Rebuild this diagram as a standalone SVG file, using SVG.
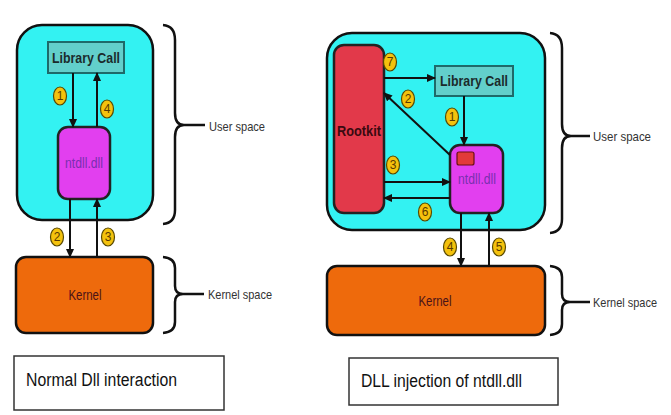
<svg xmlns="http://www.w3.org/2000/svg" width="671" height="415" viewBox="0 0 671 415">
<defs>
<style>
.space{fill:#33F2F2;stroke:#111;stroke-width:2.5}
.lib{fill:#62CFCB;stroke:#1E6A6A;stroke-width:2}
.libt{font-family:"Liberation Sans",Arial,sans-serif;font-weight:bold;font-size:14px;fill:#1B2B2B;text-anchor:middle}
.ntdll{fill:#E23FEF;stroke:#222;stroke-width:2.5}
.ntt{font-family:"Liberation Sans",Arial,sans-serif;font-size:14px;fill:#7A2FB0;text-anchor:middle}
.kern{fill:#EE6A0C;stroke:#111;stroke-width:2.5}
.kt{font-family:"Liberation Sans",Arial,sans-serif;font-size:15px;fill:#4A1218;text-anchor:middle}
.root{fill:#E2394A;stroke:#222;stroke-width:2.5}
.rt{font-family:"Liberation Sans",Arial,sans-serif;font-weight:bold;font-size:14px;fill:#3A0A10;text-anchor:middle}
.num{fill:#F4C20D;stroke:#5A4A00;stroke-width:1.2}
.numt{font-family:"Liberation Sans",Arial,sans-serif;font-size:12px;fill:#5A3A00;text-anchor:middle}
.arr{stroke:#111;stroke-width:2;fill:none;marker-end:url(#ah)}
.brace{fill:none;stroke:#111;stroke-width:2.5}
.lbl{font-family:"Liberation Sans",Arial,sans-serif;font-size:13px;fill:#333}
.cap{fill:#fff;stroke:#333;stroke-width:1.5}
.capt{font-family:"Liberation Sans",Arial,sans-serif;font-size:18px;fill:#111}
</style>
<marker id="ah" markerUnits="userSpaceOnUse" markerWidth="9" markerHeight="8" refX="8" refY="4" orient="auto">
<path d="M0,0 L9,4 L0,8 z" fill="#111"/>
</marker>
</defs>
<rect width="671" height="415" fill="#fff"/>

<!-- LEFT PANEL -->
<g id="user-space-left"><rect class="space" x="17" y="25" width="136" height="195" rx="25"/></g>
<g id="library-call-left"><rect class="lib" x="48" y="42" width="76" height="31"/><text class="libt" x="86" y="63" textLength="68" lengthAdjust="spacingAndGlyphs">Library Call</text></g>
<g id="ntdll-left"><rect class="ntdll" x="58" y="127" width="52" height="72" rx="10"/><text class="ntt" x="84" y="168" textLength="38" lengthAdjust="spacingAndGlyphs">ntdll.dll</text></g>
<g id="kernel-left"><rect class="kern" x="16" y="257" width="137" height="76" rx="10"/><text class="kt" x="85" y="300" textLength="33" lengthAdjust="spacingAndGlyphs">Kernel</text></g>
<g id="brace-user-left"><path class="brace" d="M163,25 Q175,26 175,40 L175,113 Q175,125 184,125 Q175,125 175,137 L175,210 Q175,223 163,224 M184,125 L205,125"/><text class="lbl" x="209" y="131" textLength="56" lengthAdjust="spacingAndGlyphs">User space</text></g>
<g id="brace-kernel-left"><path class="brace" d="M163,257 Q175,258 175,268 L175,286 Q175,294 183,294 Q175,294 175,302 L175,322 Q175,332 163,333 M183,294 L204,294"/><text class="lbl" x="208" y="299" textLength="64" lengthAdjust="spacingAndGlyphs">Kernel space</text></g>
<g id="caption-left"><rect class="cap" x="14" y="356" width="210" height="54"/><text class="capt" x="26" y="386" textLength="151" lengthAdjust="spacingAndGlyphs">Normal Dll interaction</text></g>

<!-- RIGHT PANEL -->
<g id="user-space-right"><rect class="space" x="327" y="33" width="218" height="197" rx="25"/></g>
<g id="rootkit"><rect class="root" x="334" y="45" width="50" height="168" rx="10"/><text class="rt" x="359" y="136" textLength="44" lengthAdjust="spacingAndGlyphs">Rootkit</text></g>
<g id="library-call-right"><rect class="lib" x="435" y="66" width="78" height="30"/><text class="libt" x="474" y="86" textLength="68" lengthAdjust="spacingAndGlyphs">Library Call</text></g>
<g id="ntdll-right"><rect class="ntdll" x="450" y="145" width="53" height="68" rx="10"/><rect x="457" y="152" width="17" height="13" rx="2" fill="#E23A3A" stroke="#6A1010" stroke-width="1.2"/><text class="ntt" x="477" y="184" textLength="38" lengthAdjust="spacingAndGlyphs">ntdll.dll</text></g>
<g id="kernel-right"><rect class="kern" x="327" y="266" width="218" height="69" rx="10"/><text class="kt" x="435" y="306" textLength="33" lengthAdjust="spacingAndGlyphs">Kernel</text></g>
<g id="brace-user-right"><path class="brace" d="M550,33 Q562,34 562,48 L562,124 Q562,136 571,136 Q562,136 562,148 L562,219 Q562,232 550,233 M571,136 L590,136"/><text class="lbl" x="593" y="141" textLength="58" lengthAdjust="spacingAndGlyphs">User space</text></g>
<g id="brace-kernel-right"><path class="brace" d="M550,266 Q562,267 562,277 L562,294 Q562,302 570,302 Q562,302 562,310 L562,324 Q562,334 550,335 M570,302 L590,302"/><text class="lbl" x="593" y="307" textLength="64" lengthAdjust="spacingAndGlyphs">Kernel space</text></g>
<g id="caption-right"><rect class="cap" x="349" y="358" width="209" height="47"/><text class="capt" x="361" y="387" textLength="161" lengthAdjust="spacingAndGlyphs">DLL injection of ntdll.dll</text></g>

<!-- CONNECTORS -->
<g id="connectors">
<line class="arr" x1="73" y1="73" x2="73" y2="127"/>
<line class="arr" x1="97" y1="127" x2="97" y2="73"/>
<line class="arr" x1="70" y1="199" x2="70" y2="257"/>
<line class="arr" x1="97" y1="257" x2="97" y2="199"/>
<line class="arr" x1="384" y1="78" x2="435" y2="78"/>
<line class="arr" x1="464" y1="96" x2="464" y2="145"/>
<line class="arr" x1="450" y1="155" x2="384" y2="93"/>
<line class="arr" x1="384" y1="182" x2="450" y2="182"/>
<line class="arr" x1="450" y1="198" x2="384" y2="198"/>
<line class="arr" x1="461" y1="213" x2="461" y2="266"/>
<line class="arr" x1="489" y1="266" x2="489" y2="213"/>
</g>

<!-- STEP NUMBERS -->
<g id="steps">
<ellipse class="num" cx="60" cy="96" rx="6.5" ry="9"/><text class="numt" x="60" y="100">1</text>
<ellipse class="num" cx="107" cy="109" rx="6.5" ry="9"/><text class="numt" x="107" y="113">4</text>
<ellipse class="num" cx="57" cy="237" rx="6.5" ry="9"/><text class="numt" x="57" y="241">2</text>
<ellipse class="num" cx="108" cy="237" rx="6.5" ry="9"/><text class="numt" x="108" y="241">3</text>
<ellipse class="num" cx="390" cy="62" rx="6.5" ry="9"/><text class="numt" x="390" y="66">7</text>
<ellipse class="num" cx="452" cy="117" rx="6.5" ry="9"/><text class="numt" x="452" y="121">1</text>
<ellipse class="num" cx="408" cy="99" rx="6.5" ry="9"/><text class="numt" x="408" y="103">2</text>
<ellipse class="num" cx="393" cy="165" rx="6.5" ry="9"/><text class="numt" x="393" y="169">3</text>
<ellipse class="num" cx="425" cy="212" rx="6.5" ry="9"/><text class="numt" x="425" y="216">6</text>
<ellipse class="num" cx="450" cy="247" rx="6.5" ry="9"/><text class="numt" x="450" y="251">4</text>
<ellipse class="num" cx="499" cy="247" rx="6.5" ry="9"/><text class="numt" x="499" y="251">5</text>
</g>
</svg>
